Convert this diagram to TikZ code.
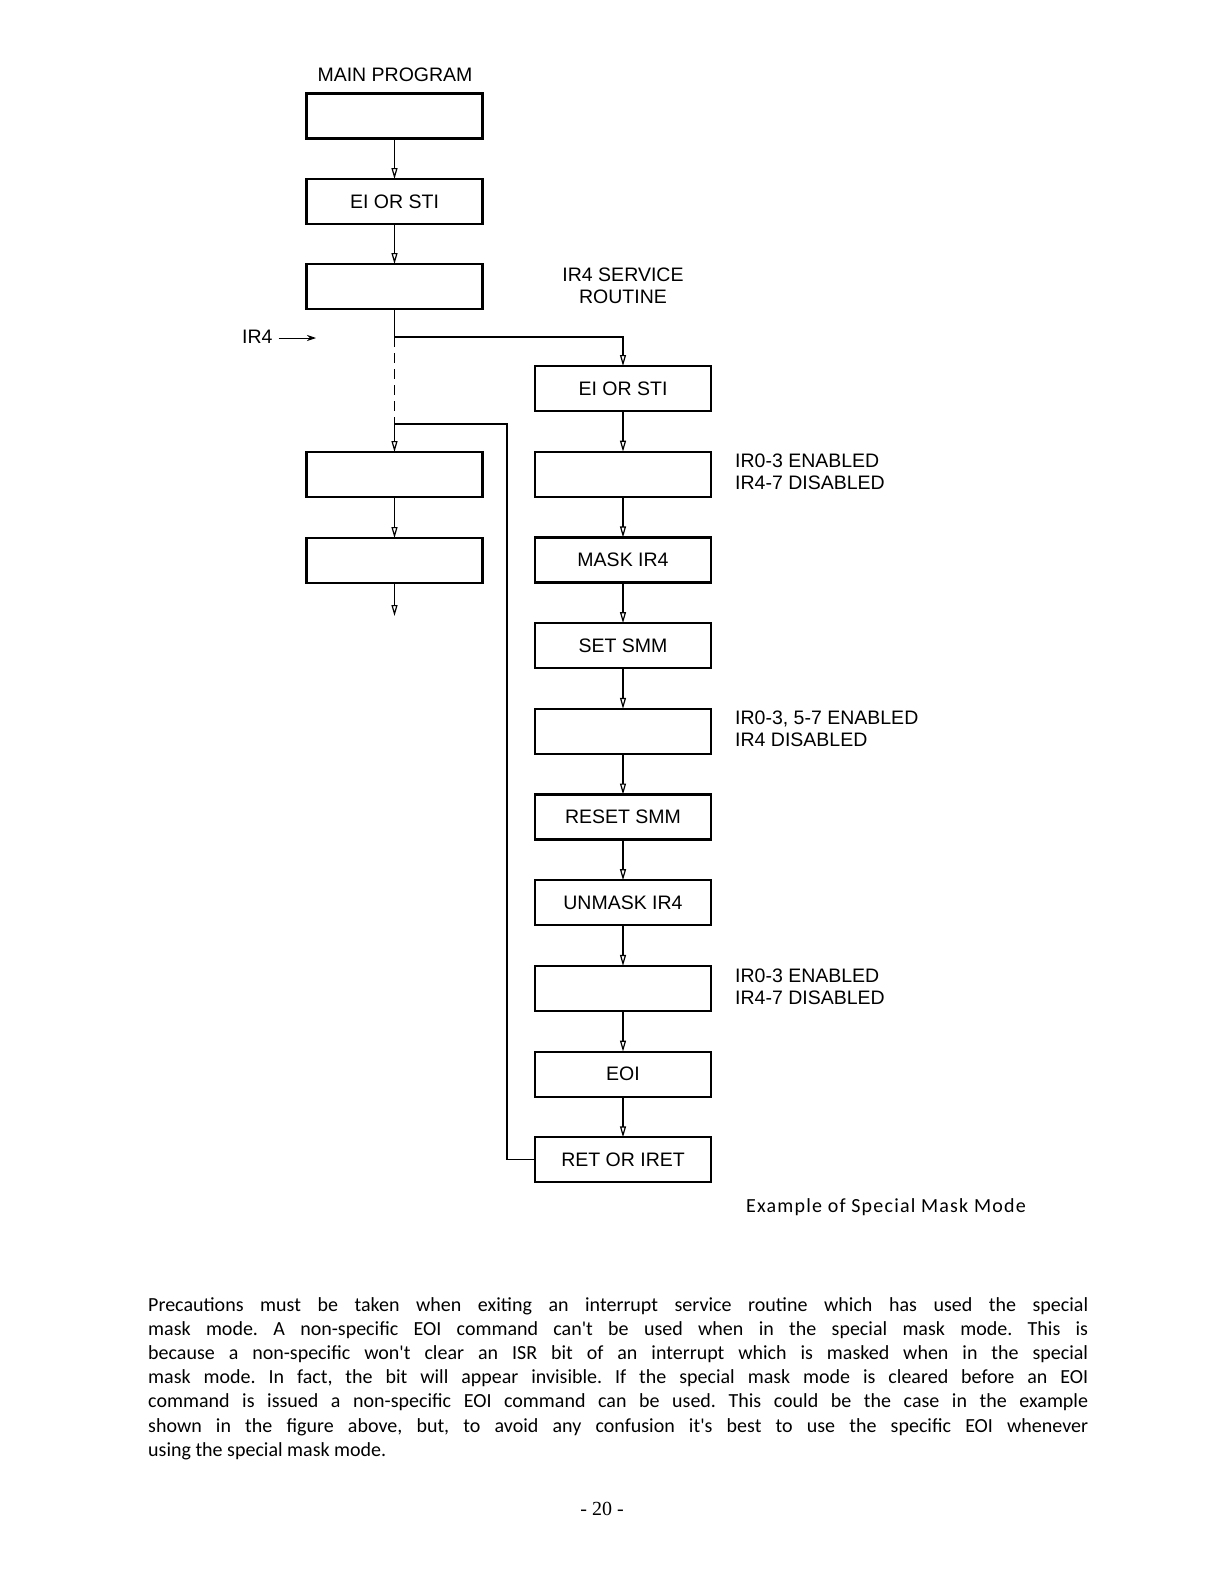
\documentclass[tikz,border=0pt]{standalone}
\usepackage{fontspec}
\setmainfont{Liberation Serif}
\newfontfamily\diafont{Liberation Sans}
\newfontfamily\bodyfont{Carlito}
\newfontfamily\capfont[LetterSpace=6]{Carlito}
\usetikzlibrary{arrows.meta,positioning}

\tikzset{
  box/.style={draw, line width=2.2pt, minimum width=176pt, minimum height=45pt,
    inner sep=0pt, outer sep=0pt, font=\diafont\fontsize{19.5}{22}\selectfont},
  flow/.style={line width=1.2pt, -{Triangle[open, length=11pt, width=6pt]}},
  wire/.style={line width=1.2pt},
  note/.style={anchor=west, align=left, inner sep=0pt,
    font=\diafont\fontsize{19.5}{22}\selectfont},
}

\begin{document}
\begin{tikzpicture}[x=1pt, y=-1pt, node distance=40.7pt]
\useasboundingbox[fill=white] (0,0) rectangle (1224,1584);

% main program column
\node[note, anchor=center] (mainlbl) at (395,75) {MAIN PROGRAM};
\node[box] (m1) at (394.5,116) {};
\node[box] (m2) at (394.5,201.5) {EI OR STI};
\node[box] (m3) at (394.5,286.5) {};
\node[box] (m4) at (394.5,474.5) {};
\node[box] (m5) at (394.5,560.5) {};
\coordinate (branch) at (394.5,337);
\coordinate (join) at (394.5,424);
\coordinate (ret) at (507,424);
\coordinate (mout) at (394.5,616);

% interrupt
\node[note] (irlbl) at (242,337) {IR4};
\coordinate (irtip) at (316,338);
\draw[line width=0.8pt, -{Stealth[length=9pt, width=6pt]}] (irlbl.east) ++(6,1) -- (irtip);

% IR4 service routine column
\node[note, anchor=center, align=center] (srvlbl) at (623,286) {IR4 SERVICE\\ROUTINE};
\node[box] (r1) at (623,388.5) {EI OR STI};
\node[box, below=of r1] (r2) {};
\node[box, below=of r2] (r3) {MASK IR4};
\node[box, below=of r3] (r4) {SET SMM};
\node[box, below=of r4] (r5) {};
\node[box, below=of r5] (r6) {RESET SMM};
\node[box, below=of r6] (r7) {UNMASK IR4};
\node[box, below=of r7] (r8) {};
\node[box, below=of r8] (r9) {EOI};
\node[box, below=of r9] (r10) {RET OR IRET};

% state notes
\node[note] (n1) at (735,472) {IR0-3 ENABLED\\IR4-7 DISABLED};
\node[note] (n2) at (735,729) {IR0-3, 5-7 ENABLED\\IR4 DISABLED};
\node[note] (n3) at (735,987) {IR0-3 ENABLED\\IR4-7 DISABLED};

% connectors
\draw[flow] (m1) -- (m2);
\draw[flow] (m2) -- (m3);
\draw[wire] (m3) -- (branch);
\draw[flow] (branch) -| (r1);
\draw[wire, dash pattern=on 10pt off 6pt] (branch) -- (join);
\draw[flow] (join) -- (m4);
\draw[flow] (m4) -- (m5);
\draw[flow] (m5) -- (mout);
\foreach \a/\b in {r1/r2, r2/r3, r3/r4, r4/r5, r5/r6, r6/r7, r7/r8, r8/r9, r9/r10}
  \draw[flow] (\a) -- (\b);
\draw[wire] (r10.west) -| (ret) -- (join);

% caption and text
\node[anchor=west, inner sep=0pt, font=\capfont\fontsize{20}{24}\selectfont] (cap) at (746,1207) {Example of Special Mask Mode};
\node[anchor=north west, inner sep=0pt, text width=940pt, align=justify,
  font=\bodyfont\fontsize{20}{24.2}\selectfont\frenchspacing] (para) at (148,1297) {%
Precautions must be taken when exiting an interrupt service routine which has used the special\linebreak
mask mode. A non-specific EOI command can't be used when in the special mask mode. This is\linebreak
because a non-specific won't clear an ISR bit of an interrupt which is masked when in the special\linebreak
mask mode. In fact, the bit will appear invisible. If the special mask mode is cleared before an EOI\linebreak
command is issued a non-specific EOI command can be used. This could be the case in the example\linebreak
shown in the figure above, but, to avoid any confusion it's best to use the specific EOI whenever\linebreak
using the special mask mode.};
\node[inner sep=0pt, font=\fontsize{20}{24}\selectfont] (pageno) at (602,1509) {- 20 -};
\end{tikzpicture}
\end{document}
